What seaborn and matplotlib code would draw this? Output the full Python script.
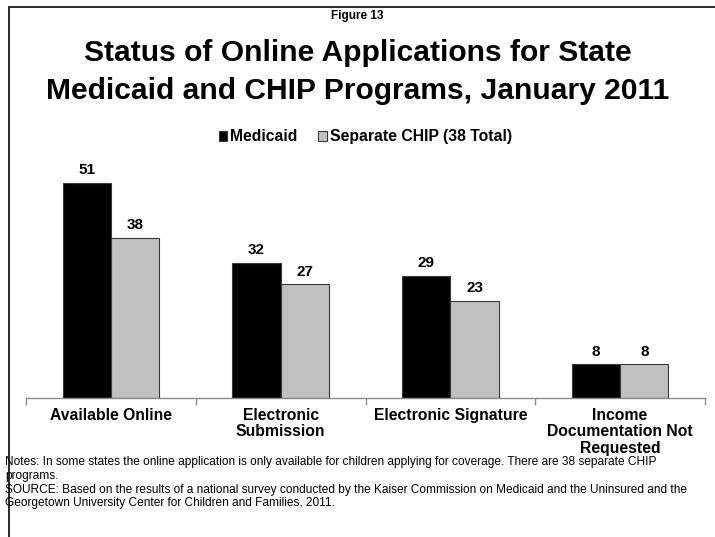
import matplotlib
matplotlib.use("Agg")
import matplotlib.pyplot as plt
import matplotlib.patches as mpatches
from matplotlib.lines import Line2D
from matplotlib.ticker import FixedLocator
import pandas as pd
import seaborn as sns

categories = ["Available Online", "Electronic\nSubmission", "Electronic Signature",
              "Income\nDocumentation Not\nRequested"]
series = ["Medicaid", "Separate CHIP (38 Total)"]
medicaid = [51, 32, 29, 8]
chip = [38, 27, 23, 8]
colors = ["#000000", "#C0C0C0"]

df = pd.DataFrame({
    "category": categories * 2,
    "series": [series[0]] * len(categories) + [series[1]] * len(categories),
    "value": medicaid + chip,
})

sns.set_theme(style="white")
plt.rcParams["font.family"] = ["Liberation Sans", "DejaVu Sans"]
plt.rcParams["text.color"] = "black"
plt.rcParams["xtick.labelcolor"] = "black"

fig = plt.figure(figsize=(7.15, 5.37), dpi=100)
ax = fig.add_axes([0.0364, 0.259, 0.9496, 0.471])

sns.barplot(data=df, x="category", y="value", hue="series", order=categories,
            hue_order=series, palette=colors, width=0.57, edgecolor="#3a3a3a",
            linewidth=0.8, legend=False, ax=ax, saturation=1)

for cont in ax.containers:
    ax.bar_label(cont, fmt="%d", padding=4, fontsize=11, fontweight="bold",
                 color="black")

ax.set_xlim(-0.5, 3.5)
ax.set_ylim(0, 60)
ax.set_xlabel("")
ax.set_ylabel("")
ax.set_yticks([])
for s in ["top", "right", "left"]:
    ax.spines[s].set_visible(False)
ax.spines["bottom"].set_color("#8c8c8c")
ax.spines["bottom"].set_linewidth(1.0)
ax.xaxis.set_minor_locator(FixedLocator([-0.5, 0.5, 1.5, 2.5, 3.5]))
ax.tick_params(axis="x", which="major", length=0, pad=7)
ax.tick_params(axis="x", which="minor", length=5, width=1.0, color="#8c8c8c",
               direction="out", bottom=True)
for lbl in ax.get_xticklabels():
    lbl.set_fontweight("bold")
    lbl.set_fontsize(11.3)
    lbl.set_linespacing(1.15)
    lbl.set_color("black")

handles = [mpatches.Patch(facecolor=colors[0], edgecolor="#3a3a3a", linewidth=0.8),
           mpatches.Patch(facecolor=colors[1], edgecolor="#3a3a3a", linewidth=0.8)]
fig.legend(handles, series, loc="center", bbox_to_anchor=(0.511, 0.745), ncol=2,
           frameon=False, handlelength=0.55, handleheight=0.55, handletextpad=0.2,
           columnspacing=1.3, prop={"weight": "bold", "size": 11.3})

fig.text(0.5, 0.970, "Figure 13", ha="center", va="center", fontsize=8.5,
         fontweight="bold")
fig.text(0.5, 0.866, "Status of Online Applications for State\nMedicaid and CHIP Programs, January 2011",
         ha="center", va="center", fontsize=21.6, fontweight="bold", linespacing=1.45)

notes = ("Notes: In some states the online application is only available for children applying for coverage. There are 38 separate CHIP\n"
         "programs.\n"
         "SOURCE: Based on the results of a national survey conducted by the Kaiser Commission on Medicaid and the Uninsured and the\n"
         "Georgetown University Center for Children and Families, 2011.")
fig.text(0.007, 0.151, notes, ha="left", va="top", fontsize=8.6, linespacing=1.2)

# Frame along the top and left edges
fig.add_artist(Line2D([0.0126, 0.0126], [0.0, 0.987], transform=fig.transFigure,
                      color="#2a2a2a", linewidth=1.4))
fig.add_artist(Line2D([0.0126, 1.0], [0.987, 0.987], transform=fig.transFigure,
                      color="#2a2a2a", linewidth=1.4))

fig.savefig("out.png", dpi=100)
